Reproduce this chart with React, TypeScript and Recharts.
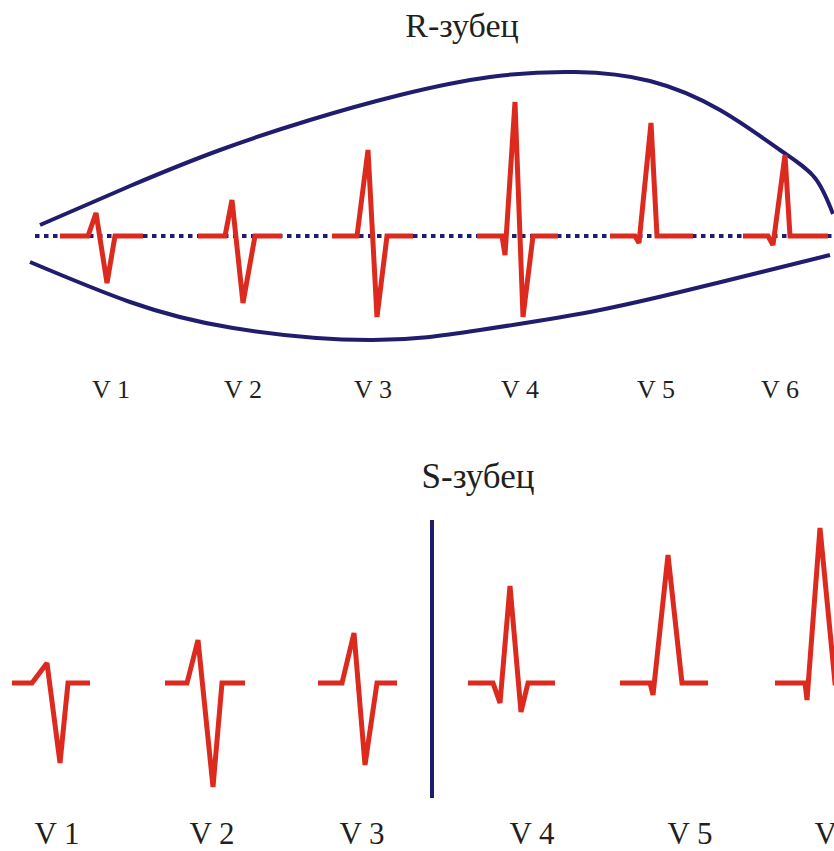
import React from 'react'
import { LineChart, Line, XAxis, YAxis, ReferenceLine } from 'recharts'

// Точки: [время (по оси X), амплитуда относительно изолинии]
const NAVY = '#211d6e'
const RED = '#dd2a1f'

// R-зубец: огибающие и комплексы V1–V6
const R_UPPER = [
  [40, 11], [130, 50], [220, 86], [310, 116], [400, 141], [490, 159], [575, 164],
  [650, 155], [720, 126], [780, 86], [815, 58], [833, 22],
]
const R_LOWER = [
  [30, -26], [130, -66], [233, -92], [370, -104], [480, -94], [600, -74], [717, -47], [830, -19],
]
const R_ISO = [[35, 0], [834, 0]]
const R_V1 = [[60, 0], [88, 0], [96, 23], [107, -47], [115, 0], [143, 0]]
const R_V2 = [[198, 0], [225, 0], [232, 36], [243, -67], [255, 0], [282, 0]]
const R_V3 = [[332, 0], [357, 0], [368, 86], [377, -81], [387, 0], [413, 0]]
const R_V4 = [[477, 0], [502, 0], [505, -19], [515, 134], [523, -81], [533, 0], [558, 0]]
const R_V5 = [[610, 0], [635, 0], [639, -7], [651, 113], [657, 0], [693, 0]]
const R_V6 = [[743, 0], [768, 0], [773, -9], [785, 81], [790, 0], [828, 0]]
const R_LABEL_X = [111, 243, 373, 520, 656, 780]

// S-зубец: комплексы V1–V6
const S_V1 = [[12, 0], [32, 0], [47, 20], [60, -80], [68, 0], [90, 0]]
const S_V2 = [[165, 0], [187, 0], [198, 43], [213, -104], [222, 0], [245, 0]]
const S_V3 = [[318, 0], [342, 0], [354, 50], [365, -82], [377, 0], [397, 0]]
const S_V4 = [[468, 0], [493, 0], [500, -20], [510, 97], [521, -29], [528, 0], [555, 0]]
const S_V5 = [[620, 0], [650, 0], [653, -12], [668, 128], [682, 0], [708, 0]]
const S_V6 = [[775, 0], [805, 0], [807, -17], [820, 155], [835, 0], [850, 0]]
const S_DIVIDER_X = 432
const S_DIVIDER_Y = [163, -115]
const S_LABEL_X = [57, 212, 362, 532, 690, 837]

const LEADS = ['V 1', 'V 2', 'V 3', 'V 4', 'V 5', 'V 6']

const toPts = (arr: number[][]) => arr.map(([t, a]) => ({ t, a }))

const SERIF = '"Liberation Serif", "DejaVu Serif", serif'

function LeadTick({ x, y, index, dy, size }: any) {
  return (
    <text x={x} y={y + dy} textAnchor="middle" fontFamily={SERIF} fontSize={size} fill="#231f20">
      {LEADS[index]}
    </text>
  )
}

const redLine = (key: string, pts: number[][]) => (
  <Line key={key} data={toPts(pts)} dataKey="a" type="linear" stroke={RED} strokeWidth={5}
    dot={false} activeDot={false} isAnimationActive={false}
    strokeLinejoin="miter" strokeMiterlimit={1.5} />
)

export default function App() {
  return (
    <div style={{ position: 'absolute', left: 0, top: 0, width: 834, height: 851, overflow: 'hidden', background: '#fff' }}>
      <div style={{ position: 'absolute', left: 0, top: 9, width: 834, textAlign: 'center', paddingLeft: 90, boxSizing: 'border-box',
        fontFamily: SERIF, fontSize: 34, lineHeight: '34px', color: '#231f20' }}>
        R-зубец
      </div>
      <div style={{ position: 'absolute', left: 0, top: 0 }}>
        <LineChart width={834} height={430} margin={{ top: 0, right: 0, bottom: 0, left: 0 }}>
          <XAxis dataKey="t" type="number" domain={[0, 834]} allowDataOverflow height={60}
            ticks={R_LABEL_X} interval={0} axisLine={false} tickLine={false} tickSize={0} tickMargin={0}
            tick={(p: any) => <LeadTick {...p} dy={28} size={26} />} />
          <YAxis type="number" domain={[-134, 236]} allowDataOverflow hide />
          <Line data={toPts(R_ISO)} dataKey="a" type="linear" stroke={NAVY} strokeWidth={4}
            strokeDasharray="4.5 4.5" dot={false} activeDot={false} isAnimationActive={false} />
          <Line data={toPts(R_UPPER)} dataKey="a" type="natural" stroke={NAVY} strokeWidth={4}
            dot={false} activeDot={false} isAnimationActive={false} />
          <Line data={toPts(R_LOWER)} dataKey="a" type="natural" stroke={NAVY} strokeWidth={4}
            dot={false} activeDot={false} isAnimationActive={false} />
          {redLine('r1', R_V1)}
          {redLine('r2', R_V2)}
          {redLine('r3', R_V3)}
          {redLine('r4', R_V4)}
          {redLine('r5', R_V5)}
          {redLine('r6', R_V6)}
        </LineChart>
      </div>

      <div style={{ position: 'absolute', left: 0, top: 459, width: 834, textAlign: 'center', paddingLeft: 122, boxSizing: 'border-box',
        fontFamily: SERIF, fontSize: 35, lineHeight: '35px', color: '#231f20' }}>
        S-зубец
      </div>
      <div style={{ position: 'absolute', left: 0, top: 430 }}>
        <LineChart width={834} height={421} margin={{ top: 0, right: 0, bottom: 0, left: 0 }}>
          <XAxis dataKey="t" type="number" domain={[0, 834]} allowDataOverflow height={34}
            ticks={S_LABEL_X} interval={0} axisLine={false} tickLine={false} tickSize={0} tickMargin={0}
            tick={(p: any) => <LeadTick {...p} dy={27} size={31} />} />
          <YAxis type="number" domain={[-134, 253]} allowDataOverflow hide />
          <ReferenceLine segment={[{ x: S_DIVIDER_X, y: S_DIVIDER_Y[0] }, { x: S_DIVIDER_X, y: S_DIVIDER_Y[1] }]}
            stroke={NAVY} strokeWidth={4} />
          {redLine('s1', S_V1)}
          {redLine('s2', S_V2)}
          {redLine('s3', S_V3)}
          {redLine('s4', S_V4)}
          {redLine('s5', S_V5)}
          {redLine('s6', S_V6)}
        </LineChart>
      </div>
    </div>
  )
}
